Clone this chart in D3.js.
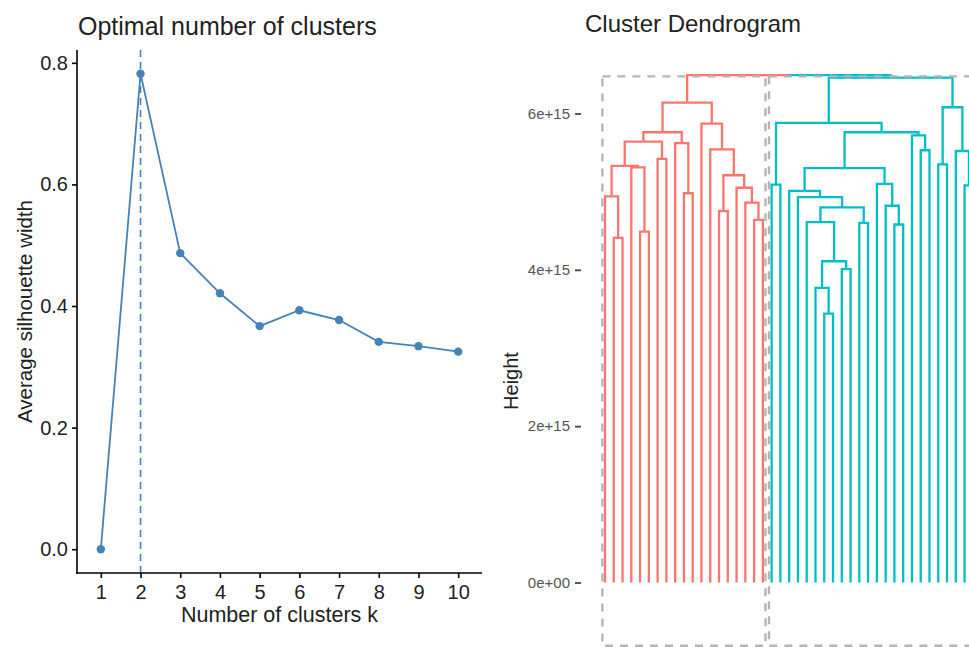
<!DOCTYPE html>
<html>
<head>
<meta charset="utf-8">
<script src="https://cdn.jsdelivr.net/npm/d3@7"></script>
<style>
  body { margin: 0; background: #fff; }
  svg { display: block; font-family: "Liberation Sans", Arial, Helvetica, sans-serif; }
</style>
</head>
<body>
<svg id="chart" width="969" height="647"></svg>
<script>
// ---- silhouette panel ----
const clusterCounts = [1, 2, 3, 4, 5, 6, 7, 8, 9, 10];
const avgSilhouette = [0.000, 0.782, 0.487, 0.421, 0.367, 0.393, 0.377, 0.341, 0.334, 0.325];
const bestK = 2;
const silhouetteTicks = [0.0, 0.2, 0.4, 0.6, 0.8];

// ---- dendrogram ----
// leaves are numbered 1..leafCount in display order;
// each merge is [left, right, height]: negative = leaf, positive = earlier merge row (1-based)
const leafCount = 43;
const merges = [
  [-26, -27, 3.44e15],
  [-25,   1, 3.77e15],
  [-28, -29, 4.01e15],
  [  2,   3, 4.11e15],
  [ -2,  -3, 4.41e15],
  [ -5,  -6, 4.49e15],
  [-34, -35, 4.58e15],
  [-30, -31, 4.60e15],
  [-24,   4, 4.61e15],
  [-18, -19, 4.64e15],
  [-14, -15, 4.75e15],
  [  9,   8, 4.80e15],
  [-33,   7, 4.82e15],
  [-17,  10, 4.86e15],
  [-23,  12, 4.93e15],
  [ -1,   5, 4.94e15],
  [-10, -11, 4.98e15],
  [-22,  15, 5.01e15],
  [-16,  14, 5.05e15],
  [-42, -43, 5.08e15],
  [-20, -21, 5.09e15],
  [-32,  13, 5.10e15],
  [ 11,  19, 5.21e15],
  [ 18,  22, 5.30e15],
  [ -4,   6, 5.31e15],
  [ 16,  25, 5.33e15],
  [-39, -40, 5.35e15],
  [ -7,  -8, 5.42e15],
  [-37, -38, 5.53e15],
  [-41,  20, 5.52e15],
  [-13,  23, 5.54e15],
  [ -9,  17, 5.62e15],
  [ 26,  28, 5.64e15],
  [-36,  29, 5.72e15],
  [ 33,  32, 5.76e15],
  [ 24,  34, 5.76e15],
  [-12,  31, 5.87e15],
  [ 21,  36, 5.88e15],
  [ 27,  30, 6.08e15],
  [ 35,  37, 6.14e15],
  [ 38,  39, 6.46e15],
  [ 40,  41, 6.49e15]
];
const nClusters = 2;
const clusterColors = ["#F8766D", "#00BFC4"];
const heightTicks = [0, 2e15, 4e15, 6e15];
const heightTickLabels = ["0e+00", "2e+15", "4e+15", "6e+15"];

const svg = d3.select("#chart");
svg.append("rect").attr("width", 969).attr("height", 647).attr("fill", "#fff");

// =================== left: optimal number of clusters ===================
(function () {
  const left = 77, right = 482, top = 50, bottom = 573;
  const x = d3.scaleLinear().domain([0.4, 10.6]).range([left, right]);
  const yMin = d3.min(avgSilhouette), yMax = d3.max(avgSilhouette);
  const pad = (yMax - yMin) * 0.05;
  const y = d3.scaleLinear().domain([yMin - pad, yMax + pad]).range([bottom, top]);
  const blue = "#4682B4";
  const g = svg.append("g");

  // dashed marker at the chosen k
  g.append("line")
    .attr("x1", x(bestK)).attr("x2", x(bestK))
    .attr("y1", top).attr("y2", bottom)
    .attr("stroke", blue).attr("stroke-width", 1.6)
    .attr("stroke-dasharray", "7,5");

  const pts = clusterCounts.map((k, i) => [k, avgSilhouette[i]]);
  g.append("path")
    .datum(pts)
    .attr("fill", "none").attr("stroke", blue).attr("stroke-width", 1.8)
    .attr("d", d3.line().x(d => x(d[0])).y(d => y(d[1])));
  g.selectAll("circle.pt").data(pts).enter().append("circle")
    .attr("class", "pt")
    .attr("cx", d => x(d[0])).attr("cy", d => y(d[1])).attr("r", 4.2)
    .attr("fill", blue);

  const yAxis = g.append("g").attr("transform", `translate(${left},0)`)
    .call(d3.axisLeft(y).tickValues(silhouetteTicks).tickFormat(d3.format(".1f"))
      .tickSize(5).tickSizeOuter(0).tickPadding(4));
  const xAxis = g.append("g").attr("transform", `translate(0,${bottom})`)
    .call(d3.axisBottom(x).tickValues(clusterCounts).tickFormat(d3.format("d"))
      .tickSize(5).tickSizeOuter(0).tickPadding(7));
  [yAxis, xAxis].forEach(a => {
    a.select(".domain").attr("stroke", "#000").attr("stroke-width", 1.6);
    a.selectAll(".tick line").attr("stroke", "#000").attr("stroke-width", 1.6);
    a.selectAll(".tick text").attr("fill", "#222").style("font-size", "20px");
  });
  // extend the axis lines so they meet in the corner
  yAxis.select(".domain").attr("d", `M0,${top}V${bottom + 0.8}`);
  xAxis.select(".domain").attr("d", `M${left - 0.8},0H${right}`);

  svg.append("text").attr("x", 78).attr("y", 35)
    .attr("fill", "#222").style("font-size", "25px")
    .text("Optimal number of clusters");
  svg.append("text").attr("x", (left + right) / 2).attr("y", 622)
    .attr("text-anchor", "middle").attr("fill", "#222").style("font-size", "21.5px")
    .text("Number of clusters k");
  svg.append("text")
    .attr("transform", `translate(32,${(top + bottom) / 2}) rotate(-90)`)
    .attr("text-anchor", "middle").attr("fill", "#222").style("font-size", "20.5px")
    .text("Average silhouette width");
})();

// =================== right: cluster dendrogram ===================
(function () {
  const x = d3.scaleLinear().domain([1, leafCount]).range([605, 605 + (leafCount - 1) * 8.77]);
  const y = d3.scaleLinear().domain([0, 6e15]).range([582.5, 113.5]);
  const step = x(2) - x(1);

  // node lookup
  const nodeX = new Map(), nodeH = new Map(), nodeLeaves = new Map();
  const key = id => (id < 0 ? "L" + (-id) : "M" + id);
  for (let i = 1; i <= leafCount; i++) {
    nodeX.set(key(-i), x(i)); nodeH.set(key(-i), 0); nodeLeaves.set(key(-i), [i]);
  }
  merges.forEach((m, i) => {
    const k = key(i + 1);
    nodeX.set(k, (nodeX.get(key(m[0])) + nodeX.get(key(m[1]))) / 2);
    nodeH.set(k, m[2]);
    nodeLeaves.set(k, nodeLeaves.get(key(m[0])).concat(nodeLeaves.get(key(m[1]))));
  });

  // cut into nClusters groups: the highest (nClusters-1) merges lie above the cut
  const order = merges.map((m, i) => i + 1).sort((a, b) => merges[b - 1][2] - merges[a - 1][2]);
  const above = new Set(order.slice(0, nClusters - 1));
  const clusterRoots = [];
  above.forEach(r => merges[r - 1].slice(0, 2).forEach(c => { if (!(c > 0 && above.has(c))) clusterRoots.push(c); }));
  clusterRoots.sort((a, b) => d3.min(nodeLeaves.get(key(a))) - d3.min(nodeLeaves.get(key(b))));
  const colorOf = new Map();
  clusterRoots.forEach((r, ci) => {
    const paint = id => {
      colorOf.set(key(id), clusterColors[ci]);
      if (id > 0) { paint(merges[id - 1][0]); paint(merges[id - 1][1]); }
    };
    paint(r);
  });

  const g = svg.append("g");
  // branches: each parent→child elbow coloured by the child's cluster
  merges.forEach((m, i) => {
    const p = key(i + 1);
    [m[0], m[1]].forEach(c => {
      const ck = key(c);
      g.append("path")
        .attr("d", `M${nodeX.get(p)},${y(nodeH.get(p))}H${nodeX.get(ck)}V${y(nodeH.get(ck))}`)
        .attr("fill", "none")
        .attr("stroke", colorOf.get(ck) || "#000")
        .attr("stroke-width", 2.3)
        .attr("stroke-linejoin", "miter");
    });
  });

  // dashed cluster rectangles
  const cutHeight = (merges[order[nClusters - 2] - 1][2] + merges[order[nClusters - 1] - 1][2]) / 2;
  const rectLow = -0.81e15;
  clusterRoots.forEach(r => {
    const lv = nodeLeaves.get(key(r));
    const x0 = x(d3.min(lv)) - 0.3 * step, x1 = x(d3.max(lv)) + 0.3 * step;
    g.append("rect")
      .attr("x", x0).attr("y", y(cutHeight))
      .attr("width", x1 - x0).attr("height", y(rectLow) - y(cutHeight))
      .attr("fill", "none").attr("stroke", "#b5b5b5").attr("stroke-width", 2.4)
      .attr("stroke-dasharray", "8,7");
  });

  const ax = svg.append("g").attr("transform", "translate(581,0)")
    .call(d3.axisLeft(y).tickValues(heightTicks)
      .tickFormat((d, i) => heightTickLabels[i]).tickSize(6).tickSizeOuter(0).tickPadding(5));
  ax.select(".domain").remove();
  ax.selectAll(".tick line").attr("stroke", "#444").attr("stroke-width", 1.8);
  ax.selectAll(".tick text").attr("fill", "#555").style("font-size", "15px");

  svg.append("text").attr("x", 585).attr("y", 32)
    .attr("fill", "#222").style("font-size", "24px")
    .text("Cluster Dendrogram");
  svg.append("text")
    .attr("transform", "translate(518,381) rotate(-90)")
    .attr("text-anchor", "middle").attr("fill", "#222").style("font-size", "20px")
    .text("Height");
})();
</script>
</body>
</html>
